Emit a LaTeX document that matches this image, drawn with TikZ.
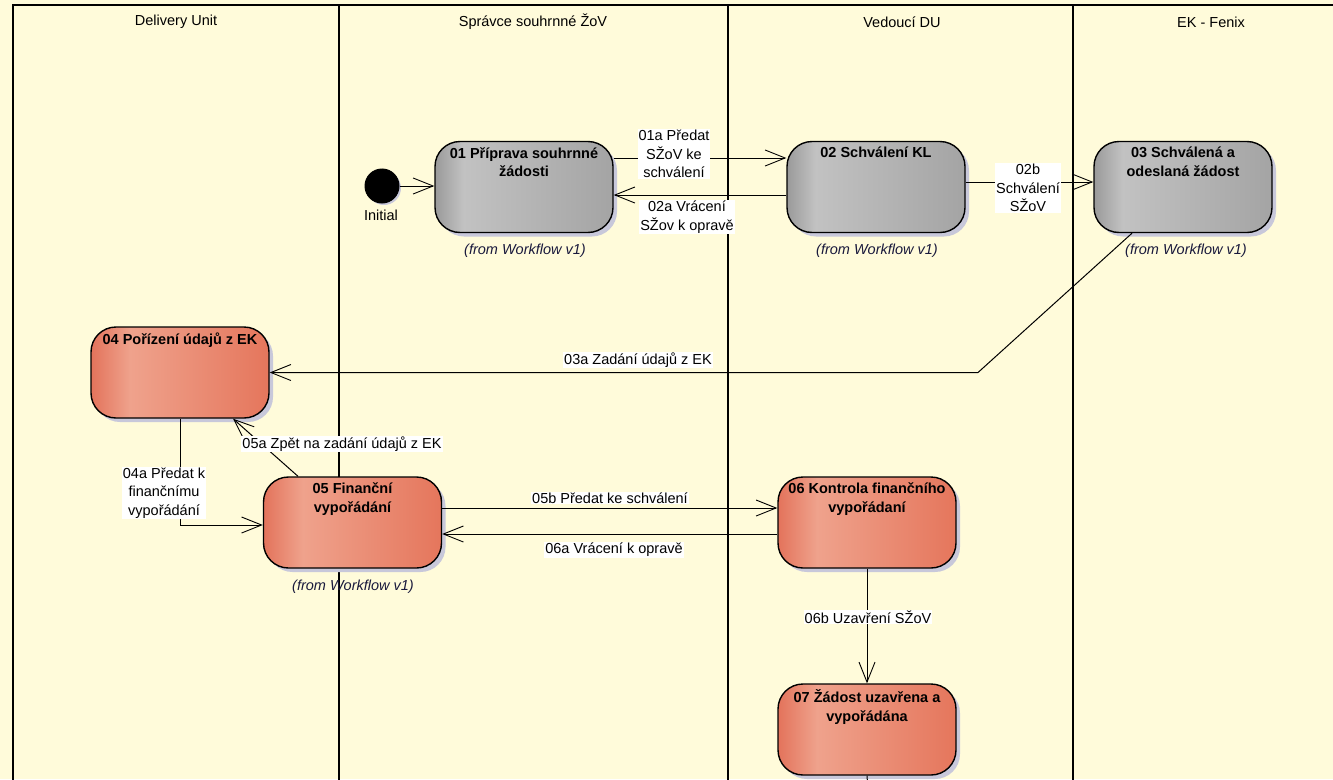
\documentclass[tikz,border=0pt]{standalone}
\usepackage{fontspec}
\setmainfont{Liberation Sans}
\usetikzlibrary{arrows.meta,shadows,calc}
\definecolor{bgc}{RGB}{255,251,218}
\definecolor{g0}{RGB}{154,154,154}
\definecolor{g1}{RGB}{194,194,194}
\definecolor{g2}{RGB}{164,164,164}
\definecolor{r0}{RGB}{227,115,91}
\definecolor{r1}{RGB}{239,162,140}
\definecolor{r2}{RGB}{229,118,92}
\definecolor{shc}{RGB}{200,200,218}
\definecolor{fromc}{RGB}{25,25,60}
\pgfdeclarehorizontalshading{grayact}{100bp}{color(0bp)=(g0); color(25bp)=(g0); color(33bp)=(g1); color(75bp)=(g2); color(100bp)=(g2)}
\pgfdeclarehorizontalshading{redact}{100bp}{color(0bp)=(r0); color(25bp)=(r0); color(36bp)=(r1); color(75bp)=(r2); color(100bp)=(r2)}
\begin{document}
\begin{tikzpicture}[x=1pt,y=-1pt,
  font=\fontsize{14.5}{18.5}\selectfont,
  line width=1pt,
  act/.style={draw=black, line width=1.4pt, rounded corners=25pt,
    minimum width=178pt, minimum height=91pt, inner sep=0pt,
    drop shadow={shadow xshift=4pt, shadow yshift=-4pt, fill=shc, opacity=1}},
  grayact/.style={act, shading=grayact},
  redact/.style={act, shading=redact},
  ttl/.style={font=\fontsize{14.5}{18.5}\selectfont\bfseries, align=center, anchor=north, inner sep=0pt},
  fromlbl/.style={font=\fontsize{14.5}{18.5}\selectfont\itshape, text=fromc, inner sep=0pt},
  lbl/.style={fill=white, inner sep=1pt, align=center},
  arr/.style={-{Straight Barb[length=20pt,width=16pt,line width=0.9pt]}},
  lane/.style={line width=1.3pt},
  hdr/.style={inner sep=0pt}
]
\clip (0,0) rectangle (1333,779);
\fill[bgc] (0,0) rectangle (1333,779);

% swimlanes
\draw[lane] (1345,5) -- (13,5) -- (13,790);
\draw[lane] (339,5) -- (339,790);
\draw[lane] (728,5) -- (728,790);
\draw[lane] (1073,5) -- (1073,790);
\node[hdr] (h1) at (176,22) {Delivery Unit};
\node[hdr] (h2) at (533,22) {Správce souhrnné ŽoV};
\node[hdr] (h3) at (902,22) {Vedoucí DU};
\node[hdr] (h4) at (1211,22) {EK - Fenix};

% initial
\node[circle, fill=black, draw=black, minimum size=34pt, inner sep=0pt,
  drop shadow={shadow xshift=2pt, shadow yshift=-2pt, fill=shc, opacity=1}] (init) at (382,186) {};
\node[hdr] (initl) at (381,215) {Initial};

% activities
\node[grayact] (n01) at (524,187) {};
\node[grayact] (n02) at (876,187) {};
\node[grayact] (n03) at (1183,187) {};
\node[redact] (n04) at (180,372.5) {};
\node[redact] (n05) at (352.5,522.5) {};
\node[redact] (n06) at (867,522.5) {};
\node[redact] (n07) at (867,729.5) {};

\node[ttl] (t01) at ([yshift=-6pt]n01.north) {01 Příprava souhrnné\\žádosti};
\node[ttl] (t02) at ([yshift=-6pt]n02.north) {02 Schválení KL};
\node[ttl] (t03) at ([yshift=-6pt]n03.north) {03 Schválená a\\odeslaná žádost};
\node[ttl] (t04) at ([yshift=-6pt]n04.north) {04 Pořízení údajů z EK};
\node[ttl] (t05) at ([yshift=-6pt]n05.north) {05 Finanční\\vypořádání};
\node[ttl] (t06) at ([yshift=-6pt]n06.north) {06 Kontrola finančního\\vypořádaní};
\node[ttl] (t07) at ([yshift=-6pt]n07.north) {07 Žádost uzavřena a\\vypořádána};

\node[fromlbl] (f01) at (525,251) {(from Workflow v1)};
\node[fromlbl] (f02) at (877,251) {(from Workflow v1)};
\node[fromlbl] (f03) at (1186,251) {(from Workflow v1)};
\node[fromlbl] (f05) at (353,587) {(from Workflow v1)};

% connectors
\draw[arr] (init.east) -- (n01.west |- init.east);
\draw[arr] (n01.east |- 0,158) -- (n02.west |- 0,158);
\draw[arr] (n02.west |- 0,195) -- (n01.east |- 0,195);
\draw[arr] (n02.east |- 0,182) -- (n03.west |- 0,182);
\coordinate (b3) at (978,372.5);
\draw[arr] ([xshift=-51pt]n03.south) -- (b3) -- (n04.east);
\draw[arr] (n04.south) |- ([yshift=-2.5pt]n05.west);
\draw[arr] ([xshift=-54.5pt]n05.north) -- ([xshift=53pt]n04.south);
\draw[arr] (n05.east |- 0,508) -- (n06.west |- 0,508);
\draw[arr] (n06.west |- 0,534) -- (n05.east |- 0,534);
\draw[arr] (n06.south) -- (n07.north);
\coordinate (e07) at (868,790);
\draw (n07.south) -- (e07);

% connector labels
\node[lbl] (l01a) at (674,154) {01a Předat\\SŽoV ke\\schválení};
\node[lbl] (l02a) at (687,217) {02a Vrácení\\SŽov k opravě};
\node[lbl] (l02b) at (1028,188) {02b\\Schválení\\SŽoV};
\node[lbl] (l03a) at (638,360) {03a Zadání údajů z EK};
\node[lbl] (l04a) at (164,493) {04a Předat k\\finančnímu\\vypořádání};
\node[lbl] (l05a) at (342,444) {05a Zpět na zadání údajů z EK};
\node[lbl] (l05b) at (610,498) {05b Předat ke schválení};
\node[lbl] (l06a) at (614,550) {06a Vrácení k opravě};
\node[lbl] (l06b) at (868,617) {06b Uzavření SŽoV};
\end{tikzpicture}
\end{document}
